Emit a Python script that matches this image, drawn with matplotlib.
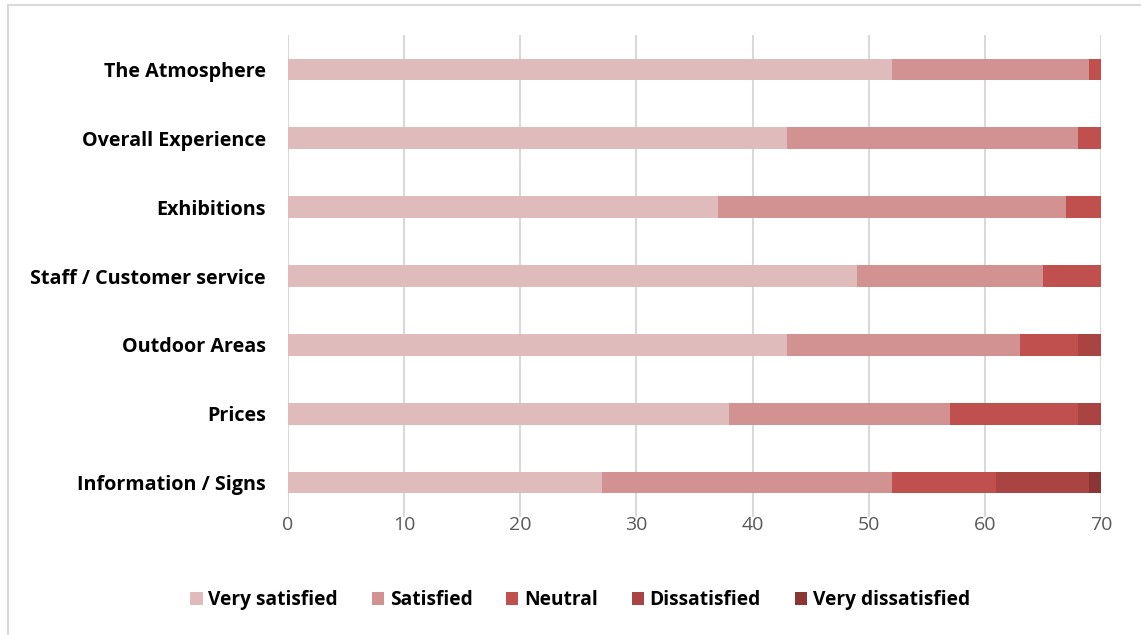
import matplotlib
matplotlib.use("Agg")
import matplotlib.pyplot as plt
from matplotlib.patches import Rectangle

categories = ["The Atmosphere", "Overall Experience", "Exhibitions",
              "Staff / Customer service", "Outdoor Areas", "Prices",
              "Information / Signs"]
series_names = ["Very satisfied", "Satisfied", "Neutral", "Dissatisfied", "Very dissatisfied"]
very_satisfied = [52, 43, 37, 49, 43, 38, 27]
satisfied = [17, 25, 30, 16, 20, 19, 25]
neutral = [1, 2, 3, 5, 5, 11, 9]
dissatisfied = [0, 0, 0, 0, 2, 2, 8]
very_dissatisfied = [0, 0, 0, 0, 0, 0, 1]
x_ticks = [0, 10, 20, 30, 40, 50, 60, 70]

colors = ["#E0BBBB", "#D39292", "#C0504D", "#A94442", "#8B3535"]
series = [very_satisfied, satisfied, neutral, dissatisfied, very_dissatisfied]

fig = plt.figure(figsize=(11.41, 6.35), dpi=100)
ax = fig.add_axes([288/1141, 1-517/635, (1101-288)/1141, (517-35)/635])

ypos = list(range(len(categories)))
left = [0]*len(categories)
for name, vals, c in zip(series_names, series, colors):
    ax.barh(ypos, vals, left=left, height=0.315, color=c, label=name, zorder=3)
    left = [a+b for a, b in zip(left, vals)]

ax.set_ylim(len(categories)-0.5, -0.5)
ax.set_xlim(0, 70)
ax.set_xticks(x_ticks)
ax.set_yticks(ypos)
ax.set_yticklabels(categories, fontsize=14.2, fontweight="bold", color="black",
                   family="Open Sans")
ax.tick_params(axis="x", labelsize=14, colors="#595959", length=0, pad=-1)
ax.tick_params(axis="y", length=0, pad=16)
for lbl in ax.get_xticklabels():
    lbl.set_family("Open Sans")
ax.grid(axis="x", color="#D9D9D9", linewidth=1.5, zorder=0)
for s in ax.spines.values():
    s.set_visible(False)

leg = fig.legend(loc="center", bbox_to_anchor=(580/1141, 1-600/635), ncol=5,
                 frameon=False, handlelength=0.65, handleheight=0.65,
                 handletextpad=0.3, columnspacing=1.75,
                 prop={"family": "Open Sans", "weight": "bold", "size": 13.8})

fig.patches.append(Rectangle((8/1141, -0.05), 1.1, 1-5/635+0.05,
                             transform=fig.transFigure, fill=False,
                             edgecolor="#D9D9D9", linewidth=1.5))

fig.savefig("out.png", dpi=100, facecolor="white")
